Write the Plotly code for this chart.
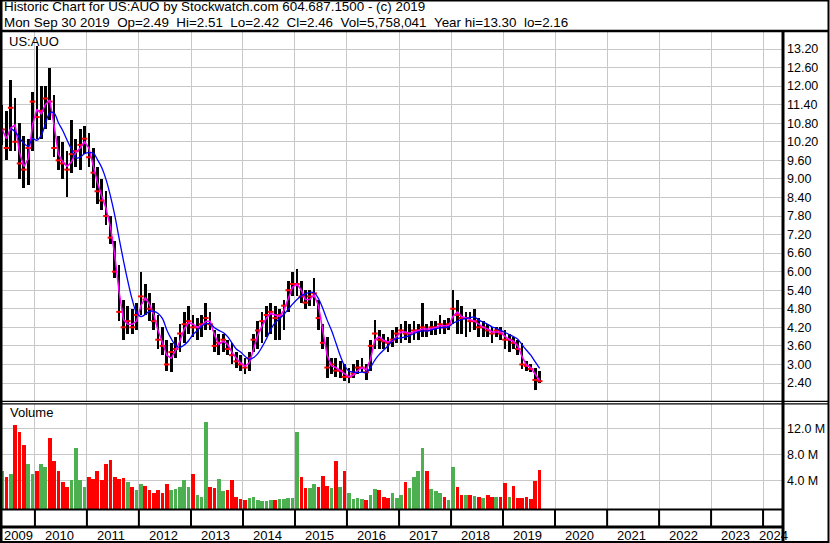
import plotly.graph_objects as go
import pandas as pd

# ---------------- data (monthly) ----------------
months = pd.date_range("2009-05-01", "2019-09-01", freq="MS") + pd.Timedelta(days=14)

high = [
    11.4, 11.2, 12.2, 11.6, 10.8, 10.4, 10.3, 11.8,
    13.3, 12.0, 12.0, 12.6, 11.7, 10.4, 10.2, 9.9, 10.9, 10.3, 10.6, 10.7,
    10.5, 10.0, 9.4, 9.0, 8.6, 7.8, 7.0, 6.2, 5.1, 4.9, 4.8, 5.0,
    6.0, 5.6, 5.3, 5.0, 4.6, 4.2, 3.8, 3.7, 3.9, 4.3, 4.7, 4.9,
    4.6, 4.5, 4.6, 5.0, 4.7, 4.1, 4.0, 4.0, 3.8, 3.7, 3.4, 3.3,
    3.2, 3.4, 4.0, 4.4, 4.7, 4.9, 5.0, 4.9, 4.8, 5.1, 5.7, 6.0,
    6.1, 5.7, 5.4, 5.4, 5.8, 5.1, 4.3, 3.9, 3.2, 3.2, 3.1, 3.0,
    2.9, 3.0, 3.15, 3.2, 3.0, 3.8, 4.45, 4.1, 4.0, 3.9, 4.1, 4.2,
    4.3, 4.4, 4.3, 4.4, 4.3, 5.0, 4.3, 4.4, 4.4, 4.6, 4.45, 4.5,
    5.4, 5.1, 4.9, 4.7, 4.7, 4.8, 4.5, 4.4, 4.3, 4.2, 4.2, 4.2,
    4.1, 4.0, 3.9, 3.8, 3.7, 3.1, 3.0, 2.9, 2.8,
]
low = [
    10.1, 9.6, 9.9, 9.9, 9.0, 8.7, 8.8, 9.9,
    10.3, 10.3, 10.6, 10.9, 9.7, 9.3, 9.0, 8.4, 9.2, 9.4, 9.3, 9.8,
    9.4, 8.7, 8.2, 8.0, 7.5, 6.9, 5.8, 4.4, 3.8, 4.0, 4.0, 4.1,
    4.6, 4.6, 4.4, 4.1, 3.5, 3.3, 2.8, 2.75, 3.2, 3.4, 3.7, 4.0,
    3.9, 3.8, 3.9, 4.1, 4.1, 3.4, 3.3, 3.4, 3.3, 3.0, 2.9, 2.8,
    2.7, 2.8, 3.4, 3.5, 3.7, 3.9, 4.0, 3.8, 3.8, 4.1, 4.7, 5.2,
    5.2, 5.0, 4.8, 4.9, 4.9, 4.1, 3.5, 2.55, 2.7, 2.6, 2.55, 2.45,
    2.4, 2.55, 2.7, 2.75, 2.5, 2.8, 3.5, 3.5, 3.5, 3.4, 3.55, 3.7,
    3.7, 3.8, 3.7, 3.8, 3.8, 3.9, 3.9, 3.95, 3.95, 4.0, 4.0, 4.1,
    4.3, 4.0, 4.0, 3.9, 4.05, 4.1, 3.9, 3.9, 3.9, 3.7, 3.9, 3.8,
    3.5, 3.4, 3.5, 3.3, 2.85, 2.8, 2.75, 2.16, 2.4,
]
close = [
    10.6, 10.0, 11.3, 10.2, 9.5, 9.3, 10.0, 11.5,
    11.0, 11.2, 11.6, 11.5, 10.0, 9.6, 9.5, 9.3, 9.8, 9.9, 10.1, 10.3,
    9.7, 9.2, 8.6, 8.3, 7.8, 7.1, 6.0, 4.7, 4.2, 4.4, 4.2, 4.6,
    5.2, 5.1, 4.8, 4.4, 3.8, 3.6, 3.0, 3.4, 3.5, 4.0, 4.3, 4.4,
    4.2, 4.2, 4.3, 4.5, 4.3, 3.6, 3.7, 3.8, 3.5, 3.3, 3.1, 3.0,
    2.9, 3.2, 3.8, 4.1, 4.4, 4.6, 4.7, 4.5, 4.6, 4.9, 5.4, 5.6,
    5.6, 5.2, 5.0, 5.2, 5.3, 4.5, 3.7, 2.9, 3.0, 2.8, 2.8, 2.6,
    2.6, 2.7, 2.9, 2.9, 2.75, 3.6, 4.0, 3.8, 3.75, 3.7, 3.8, 4.0,
    4.1, 4.0, 4.0, 4.1, 4.1, 4.2, 4.1, 4.2, 4.2, 4.3, 4.2, 4.3,
    4.8, 4.6, 4.5, 4.5, 4.4, 4.4, 4.2, 4.2, 4.1, 4.0, 4.1, 4.0,
    3.8, 3.8, 3.7, 3.5, 3.0, 2.95, 2.85, 2.5, 2.46,
]
volume_m = [
    5.5, 4.5, 5.0, 12.5, 11.5, 9.5, 6.5, 5.0,
    5.5, 6.5, 6.0, 10.5, 7.0, 5.5, 3.8, 3.0, 4.0, 9.0, 4.0, 3.0,
    4.5, 4.2, 5.5, 4.0, 6.5, 7.2, 4.5, 4.2, 4.3, 3.8, 3.0, 2.5,
    3.5, 3.2, 2.5, 2.0, 2.5, 2.0, 3.5, 2.5, 2.6, 3.0, 4.0, 3.0,
    5.0, 1.8, 1.5, 13.0, 3.0, 2.8, 4.2, 2.3, 2.5, 4.0, 1.5, 1.2,
    1.0, 1.3, 1.4, 1.0, 0.8, 0.8, 0.9, 1.0, 1.2, 1.2, 1.3, 1.3,
    11.5, 4.5, 2.8, 2.8, 3.5, 3.0, 4.6, 3.2, 2.8, 7.0, 3.0, 5.5,
    2.0, 1.2, 1.3, 1.1, 1.0, 1.8, 2.7, 2.5, 1.5, 1.3, 2.0, 1.3,
    1.8, 3.8, 2.8, 4.5, 5.5, 9.0, 5.5, 2.7, 2.4, 2.0, 1.4, 1.0,
    6.0, 3.0, 1.8, 1.8, 1.7, 1.6, 1.5, 1.3, 1.8, 1.5, 1.4, 1.5,
    3.6, 1.5, 3.2, 1.3, 1.3, 1.4, 1.2, 3.9, 5.6,
]

price_ticks = [2.4, 3.0, 3.6, 4.2, 4.8, 5.4, 6.0, 6.6, 7.2, 7.8, 8.4, 9.0,
               9.6, 10.2, 10.8, 11.4, 12.0, 12.6, 13.2]
vol_ticks = [4, 8, 12]
vol_tick_text = ["4.0 M", "8.0 M", "12.0 M"]
years = list(range(2009, 2025))

header1 = "Historic Chart for US:AUO by Stockwatch.com 604.687.1500 - (c) 2019"
header2 = ("Mon Sep 30 2019  Op=2.49  Hi=2.51  Lo=2.42  Cl=2.46  "
           "Vol=5,758,041  Year hi=13.30  lo=2.16")

# ---------------- geometry helpers (pixel -> paper) ----------------
W, H = 830, 543
def px(v):
    return v / W
def py(v):
    return 1 - v / H

FONT = "Liberation Sans, Arial, sans-serif"
GRID = "#c8c8c8"

# derived series (moving averages of the closes)
s_close = pd.Series(close)
ma_fast = s_close.rolling(2, min_periods=1).mean()
ma_slow = s_close.rolling(6, min_periods=3).mean()
rng = [h - l for h, l in zip(high, low)]
vol_colors = ["#4caf50"] + ["#ff0000" if c < p else "#4caf50"
                            for p, c in zip(close[:-1], close[1:])]
VOL_BASE = -0.49
vol_h = [v - VOL_BASE for v in volume_m]

DAY_MS = 86400000
fig = go.Figure()

fig.add_trace(go.Bar(x=months, y=rng, base=low, width=19 * DAY_MS,
                     marker=dict(color="black", line=dict(width=0)),
                     xaxis="x", yaxis="y", hoverinfo="skip"))
fig.add_trace(go.Scatter(x=months, y=close, mode="markers",
                         marker=dict(symbol="line-ew", size=4,
                                     line=dict(color="#ff0000", width=2)),
                         xaxis="x", yaxis="y", hoverinfo="skip"))
fig.add_trace(go.Scatter(x=months, y=ma_fast, mode="lines",
                         line=dict(color="#ff00ff", width=1.5),
                         xaxis="x", yaxis="y"))
fig.add_trace(go.Scatter(x=months, y=ma_slow, mode="lines",
                         line=dict(color="#0000ff", width=1.3, shape="spline"),
                         xaxis="x", yaxis="y"))
fig.add_trace(go.Bar(x=months, y=vol_h, base=VOL_BASE, width=26 * DAY_MS,
                     marker=dict(color=vol_colors, line=dict(width=0)),
                     xaxis="x2", yaxis="y2", hoverinfo="skip"))

xrange = ["2009-05-14 18:00", "2024-05-13"]
xcommon = dict(type="date", range=xrange, domain=[px(2), px(782)],
               showgrid=True, gridcolor=GRID, gridwidth=1,
               tick0="2010-01-01", dtick="M12", showticklabels=False,
               ticks="", zeroline=False, showline=False)

fig.update_layout(
    width=W, height=H, autosize=False,
    margin=dict(l=0, r=0, t=0, b=0, pad=0),
    paper_bgcolor="white", plot_bgcolor="white",
    showlegend=False,
    font=dict(family=FONT, color="black"),
    xaxis=dict(**xcommon, anchor="y"),
    xaxis2=dict(**xcommon, anchor="y2", matches="x"),
    yaxis=dict(domain=[py(401), py(32)], range=[1.818, 13.75], side="right",
               anchor="x", tickvals=price_ticks,
               ticktext=["%.2f" % t for t in price_ticks],
               showgrid=True, gridcolor=GRID, gridwidth=1, ticks="",
               ticklabelstandoff=4, zeroline=False, showline=False,
               tickfont=dict(size=12.5, family=FONT, color="black")),
    yaxis2=dict(domain=[py(509.5), py(403.5)], range=[VOL_BASE, 15.82],
                side="right", anchor="x2", tickvals=vol_ticks,
                ticktext=vol_tick_text, showgrid=True, gridcolor=GRID,
                gridwidth=1, ticks="", ticklabelstandoff=4, zeroline=False,
                showline=False,
                tickfont=dict(size=12.5, family=FONT, color="black")),
    bargap=0,
)

shapes = []
def hline(y, x0, x1, w):
    shapes.append(dict(type="line", xref="paper", yref="paper",
                       x0=px(x0), x1=px(x1), y0=py(y), y1=py(y),
                       line=dict(color="black", width=w)))
def vline(x, y0, y1, w):
    shapes.append(dict(type="line", xref="paper", yref="paper",
                       x0=px(x), x1=px(x), y0=py(y0), y1=py(y1),
                       line=dict(color="black", width=w)))

# outer frame
shapes.append(dict(type="rect", xref="paper", yref="paper",
                   x0=px(1), x1=px(828.5), y0=py(542), y1=py(0.5),
                   line=dict(color="black", width=2)))
hline(31, 0, 829, 2.5)          # header separator
vline(1, 0, 543, 3)             # left border
vline(783, 31, 542, 3)          # right axis column border
hline(401.3, 0, 829, 1.2)       # price panel bottom
hline(403.8, 0, 829, 1.2)       # volume panel top
hline(509.5, 0, 783, 2)         # volume panel bottom
hline(527, 0, 783, 3)           # year label row top
for yr in years[1:]:
    shapes.append(dict(type="line", xref="x", yref="paper",
                       x0=f"{yr}-01-01", x1=f"{yr}-01-01",
                       y0=py(509.5), y1=py(527),
                       line=dict(color="black", width=2)))

annotations = []
def text(x, y, t, size=13.4, xanchor="left"):
    annotations.append(dict(x=px(x), y=py(y), xref="paper", yref="paper",
                            text=t, showarrow=False, xanchor=xanchor,
                            yanchor="middle", align="left",
                            font=dict(size=size, family=FONT, color="black")))

text(2, 7, header1)
text(2, 22.5, header2.replace("  ", " \u00a0"))
text(7, 41, "US:AUO", size=13)
text(8, 413, "Volume", size=13)

# year labels
annotations.append(dict(x=px(2), y=py(535), xref="paper", yref="paper",
                        text=str(years[0]), showarrow=False, xanchor="left",
                        yanchor="middle",
                        font=dict(size=13, family=FONT, color="black")))
for yr in years[1:]:
    annotations.append(dict(x=f"{yr}-01-01", y=py(535), xref="x", yref="paper",
                            text=str(yr), showarrow=False, xanchor="left",
                            yanchor="middle", xshift=8 if yr < 2024 else -6,
                            font=dict(size=13, family=FONT, color="black")))

fig.update_layout(shapes=shapes, annotations=annotations)
fig.write_html(
    "out.html",
    config={"displayModeBar": False, "staticPlot": True},
    post_script="document.body.style.margin='0';"
                "document.body.style.overflow='hidden';",
)
